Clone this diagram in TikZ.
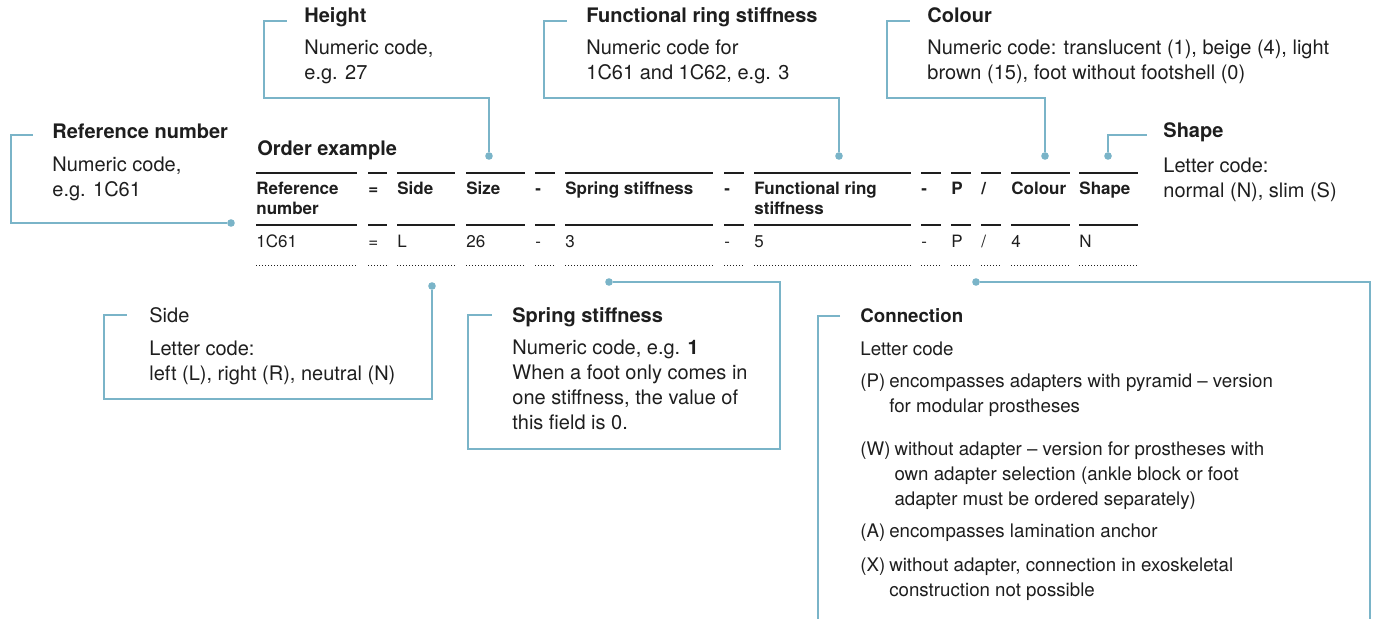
\documentclass[tikz,border=0pt]{standalone}
\usepackage{fontspec}
\setmainfont{TeX Gyre Heros}
\usetikzlibrary{positioning}
\definecolor{leadblue}{RGB}{122,180,200}
\definecolor{ink}{RGB}{30,30,30}
\newcommand{\stack}[1]{\begin{tabular}[t]{@{}l@{}}#1\end{tabular}}
\newcommand{\codeentry}[2]{\begin{tabular}[t]{@{}l@{\hspace{2pt}}l@{}}#1 & #2\end{tabular}}
\tikzset{
    title/.style={anchor=base west, inner sep=0pt, text=ink, font=\bfseries\fontsize{10}{12.5}\selectfont},
    body/.style={anchor=base west, inner sep=0pt, text=ink, font=\fontsize{10}{12.5}\selectfont},
    small/.style={font=\fontsize{9.35}{12.5}\selectfont},
    smallbold/.style={font=\bfseries\fontsize{9.35}{12.5}\selectfont},
    head/.style={anchor=base west, inner sep=0pt, text=ink, font=\bfseries\fontsize{8.5}{10}\selectfont},
    cell/.style={anchor=base west, inner sep=0pt, text=ink, font=\fontsize{8.5}{10}\selectfont},
    rule/.style={draw=ink, line width=0.8pt},
    dotrule/.style={draw=ink, line width=0.5pt, dash pattern=on 0.5pt off 1pt},
    leader/.style={draw=leadblue, line width=1pt},
    dot/.style={circle, fill=leadblue, inner sep=0pt, minimum size=3.8pt}
}

\begin{document}
\begin{tikzpicture}[x=0.5pt, y=-0.5pt]
\useasboundingbox (0,0) rectangle (1376,619);

\node[title] (order) at (257,156) {Order example};
\foreach \l/\r/\h/\v [count=\i] in {256/357/{Reference\\number}/1C61, 368/387/=/=, 397/455/Side/L, 466/525/Size/26, 535/555/-/-, 565/713/Spring stiffness/3, 724/744/-/-, 754/911/{Functional ring\\stiffness}/5, 921/941/-/-, 951/971/P/P, 981/1001/{/}/{/}, 1011/1070/Colour/4, 1079/1138/Shape/N} {
    \node[head] (h\i) at (\l,195) {\stack{\h}};
    \node[cell] (c\i) at (\l,248) {\v};
    \draw[rule] (\l,173) -- (\r,173);
    \draw[rule] (\l,225) -- (\r,225);
    \draw[dotrule] (\l,266) -- (\r,266);
}

\node[title] (tref) at (52,139) {Reference number};
\node[body] (bref) at ([yshift=-16.5pt]tref.base west) {\stack{Numeric code,\\e.g. 1C61}};
\node[title] (theight) at (304,23) {Height};
\node[body] (bheight) at ([yshift=-16pt]theight.base west) {\stack{Numeric code,\\e.g. 27}};
\node[title] (tring) at (586,23) {Functional ring stiffness};
\node[body] (bring) at ([yshift=-16pt]tring.base west) {\stack{Numeric code for\\1C61 and 1C62, e.g. 3}};
\node[title] (tcolour) at (927,23) {Colour};
\node[body] (bcolour) at ([yshift=-16pt]tcolour.base west) {\stack{Numeric code: translucent (1), beige (4), light\\brown (15), foot without footshell (0)}};
\node[title] (tshape) at (1163,138) {Shape};
\node[body] (bshape) at ([yshift=-17.5pt]tshape.base west) {\stack{Letter code:\\normal (N), slim (S)}};
\node[body] (tside) at (149,323) {Side};
\node[body] (bside) at ([yshift=-16.5pt]tside.base west) {\stack{Letter code:\\left (L), right (R), neutral (N)}};
\node[title] (tspring) at (512,323) {Spring stiffness};
\node[body] (bspring) at ([yshift=-16pt]tspring.base west) {\stack{Numeric code, e.g. \textbf{1}\\When a foot only comes in\\one stiffness, the value of\\this field is 0.}};
\node[title, smallbold] (tconn) at (860,323) {Connection};
\node[body, small] (bconn) at ([yshift=-16.5pt]tconn.base west) {Letter code};
\node[body, small] (cp) at ([yshift=-16pt]bconn.base west) {\codeentry{(P)}{encompasses adapters with pyramid -- version\\ & for modular prostheses}};
\node[body, small] (cw) at (860,456) {\codeentry{(W)}{without adapter -- version for prostheses with\\ & own adapter selection (ankle block or foot\\ & adapter must be ordered separately)}};
\node[body, small] (ca) at (860,538) {\codeentry{(A)}{encompasses lamination anchor}};
\node[body, small] (cx) at (860,572) {\codeentry{(X)}{without adapter, connection in exoskeletal\\ & construction not possible}};

\node[dot] (dref) at (231,223) {};
\node[dot] (dheight) at (489,156) {};
\node[dot] (dring) at (839,156) {};
\node[dot] (dcolour) at (1045,156) {};
\node[dot] (dshape) at (1108,156) {};
\node[dot] (dside) at (432,286) {};
\node[dot] (dspring) at (609,282) {};
\node[dot] (dconn) at (976,282) {};

\coordinate (sref) at (33,135);
\coordinate (sheight) at (287,21);
\coordinate (sring) at (567,21);
\coordinate (scolour) at (910,21);
\coordinate (sshape) at (1147,135);
\coordinate (sside) at (127,315);
\coordinate (sspring) at (492,315);
\coordinate (sconn) at (840,316);

\draw[leader] (dref) -| (11,135) -- (sref);
\draw[leader] (dheight) |- (264,98) |- (sheight);
\draw[leader] (dring) |- (544,98) |- (sring);
\draw[leader] (dcolour) |- (887,98) |- (scolour);
\draw[leader] (dshape) |- (sshape);
\draw[leader] (dside) |- (104,399) |- (sside);
\draw[leader] (dspring) -| (780,449) -| (468,315) -- (sspring);
\draw[leader] (dconn) -| (1370,619);
\draw[leader] (sconn) -| (818,619);
\end{tikzpicture}
\end{document}
